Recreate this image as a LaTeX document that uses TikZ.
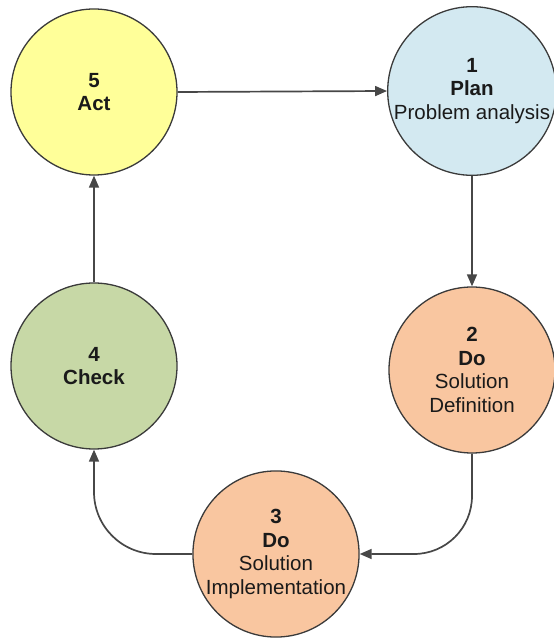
\documentclass[tikz,border=0pt]{standalone}
\usepackage{fontspec}
\setmainfont{Liberation Sans}
\usetikzlibrary{arrows.meta}

\definecolor{actfill}{HTML}{FFFF99}
\definecolor{planfill}{HTML}{D3E9F1}
\definecolor{dofill}{HTML}{F9C6A0}
\definecolor{checkfill}{HTML}{C7D8A6}
\definecolor{rimcol}{HTML}{3A3A3A}
\definecolor{linkcol}{HTML}{474747}
\definecolor{txtcol}{HTML}{1A1A1A}

\tikzset{
  phase/.style={circle, draw=rimcol, line width=1.3pt, minimum size=166pt,
    inner sep=0pt, align=center, text=txtcol,
    font=\fontsize{20.5pt}{23.5pt}\selectfont},
  link/.style={draw=linkcol, line width=1.7pt,
    -{Triangle[length=12pt,width=10pt]}}
}

\begin{document}
\begin{tikzpicture}[x=1pt,y=1pt]
  \useasboundingbox (0,0) rectangle (554,643);

  % the five stages of the cycle
  \node[phase, fill=actfill]   (act)   at (94,551)  {\textbf{5}\\\textbf{Act}};
  \node[phase, fill=planfill]  (plan)  at (472,552) {\textbf{1}\\\textbf{Plan}\\Problem analysis};
  \node[phase, fill=dofill]    (def)   at (472,273) {\textbf{2}\\\textbf{Do}\\Solution\\Definition};
  \node[phase, fill=dofill]    (impl)  at (276,89)  {\textbf{3}\\\textbf{Do}\\Solution\\Implementation};
  \node[phase, fill=checkfill] (check) at (94,277)  {\textbf{4}\\\textbf{Check}};

  % transitions between stages
  \draw[link] (act.east) -- (plan.west);
  \draw[link] (plan.south) -- (def.north);
  \draw[link, rounded corners=58pt] (def.south) |- (impl.east);
  \draw[link, rounded corners=62pt] (impl.west) -| (check.south);
  \draw[link] (check.north) -- (act.south);
\end{tikzpicture}
\end{document}
